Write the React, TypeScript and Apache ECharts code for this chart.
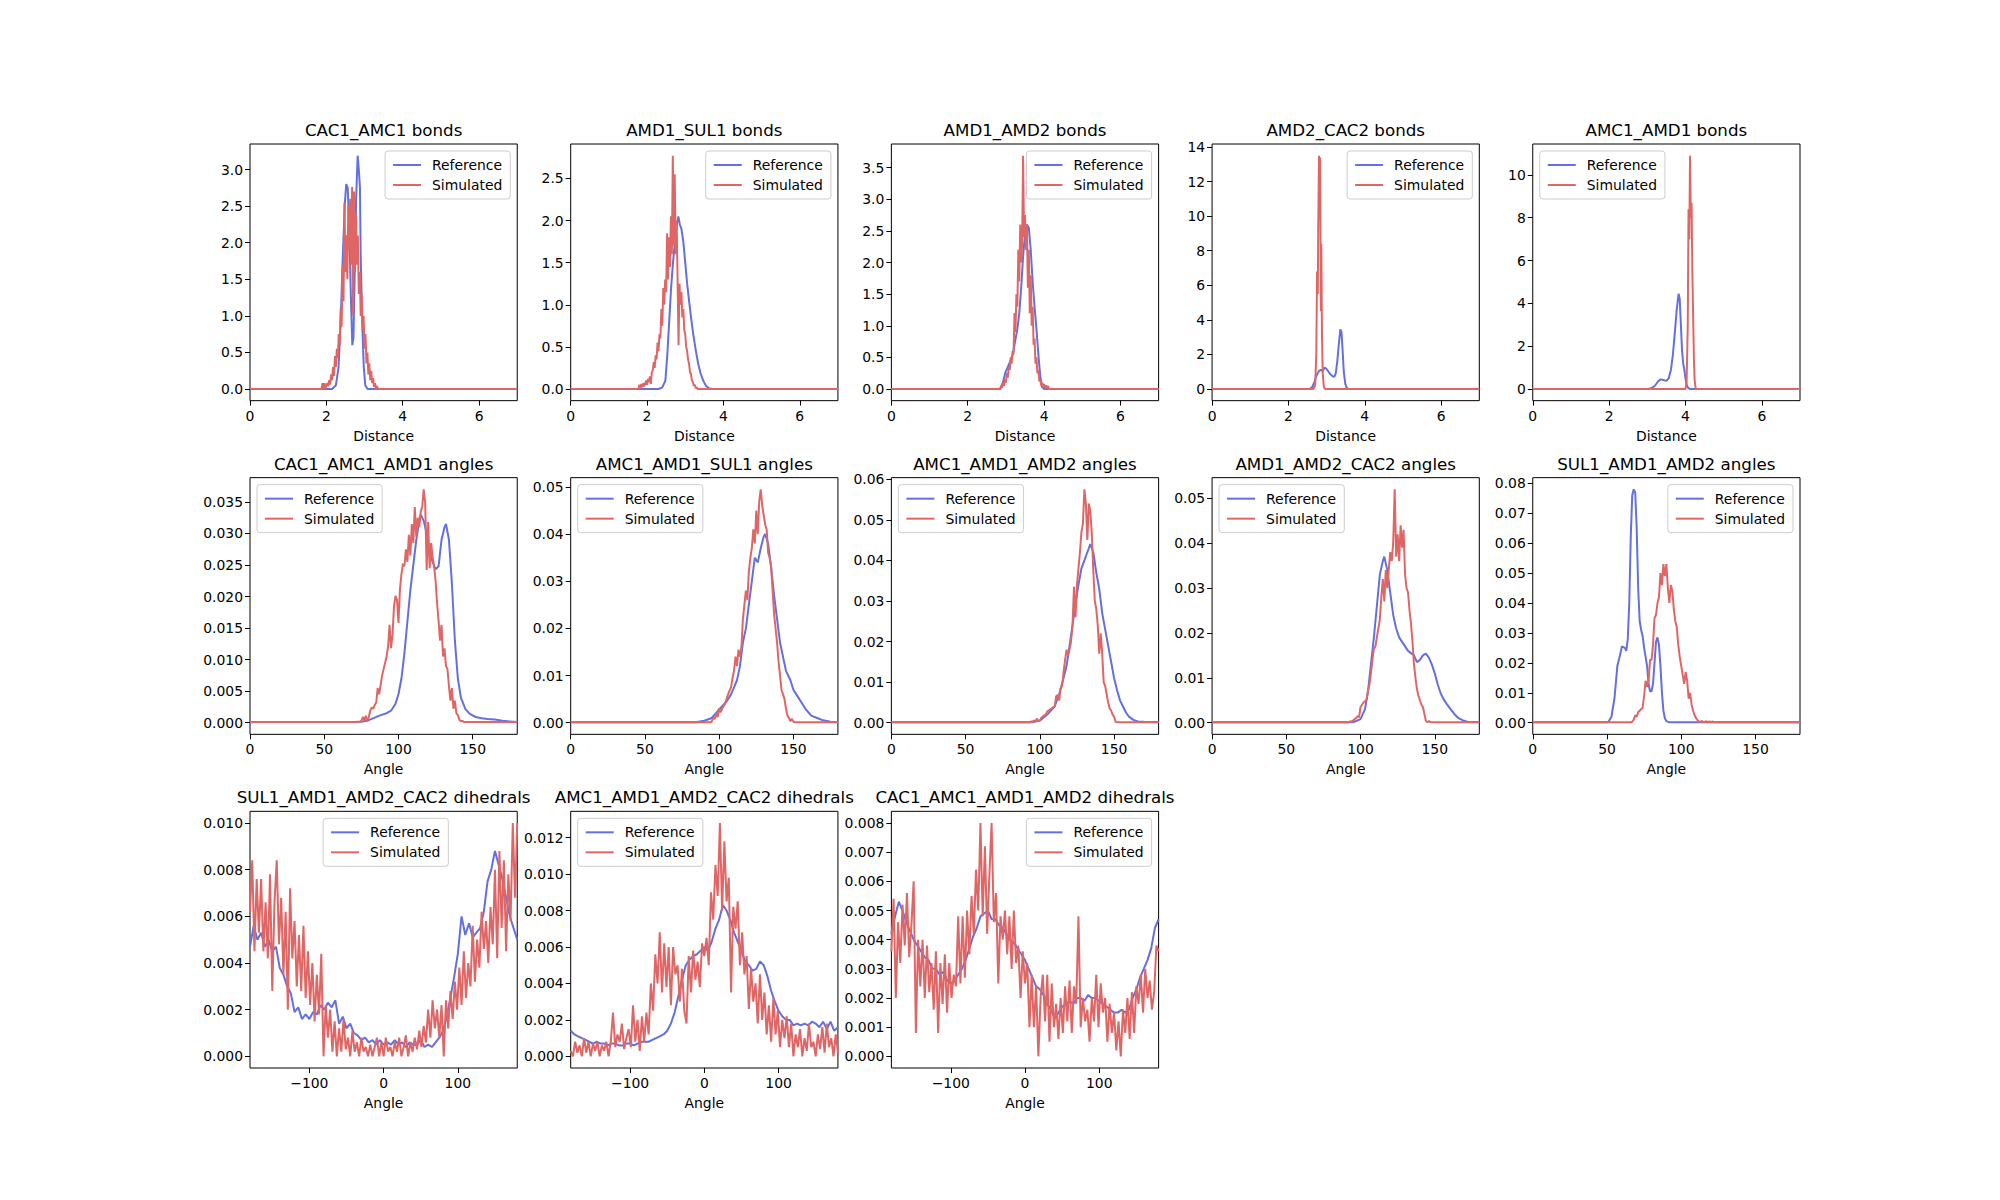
import React, { useEffect, useRef } from "react";
import * as echarts from "echarts";

const REF_COLOR = "#6270e0";
const SIM_COLOR = "#e06666";
const FONT = "DejaVu Sans";

// ---------- tick labels ----------
const BOND_XTICKS = [0, 2, 4, 6];
const ANGLE_XTICKS = [0, 50, 100, 150];
const DIH_XTICKS = [-100, 0, 100];
const B1_YTICKS = [0, 0.5, 1, 1.5, 2, 2.5, 3];
const B2_YTICKS = [0, 0.5, 1, 1.5, 2, 2.5];
const B3_YTICKS = [0, 0.5, 1, 1.5, 2, 2.5, 3, 3.5];
const B4_YTICKS = [0, 2, 4, 6, 8, 10, 12, 14];
const B5_YTICKS = [0, 2, 4, 6, 8, 10];
const A1_YTICKS = [0, 0.005, 0.01, 0.015, 0.02, 0.025, 0.03, 0.035];
const A2_YTICKS = [0, 0.01, 0.02, 0.03, 0.04, 0.05];
const A3_YTICKS = [0, 0.01, 0.02, 0.03, 0.04, 0.05, 0.06];
const A4_YTICKS = [0, 0.01, 0.02, 0.03, 0.04, 0.05];
const A5_YTICKS = [0, 0.01, 0.02, 0.03, 0.04, 0.05, 0.06, 0.07, 0.08];
const D1_YTICKS = [0, 0.002, 0.004, 0.006, 0.008, 0.01];
const D2_YTICKS = [0, 0.002, 0.004, 0.006, 0.008, 0.01, 0.012];
const D3_YTICKS = [0, 0.001, 0.002, 0.003, 0.004, 0.005, 0.006, 0.007, 0.008];

// ---------- bonds ----------
const B1_REF_X = [2.15, 2.25, 2.32, 2.38, 2.43, 2.48, 2.52, 2.56, 2.6, 2.64, 2.68, 2.71, 2.74, 2.78, 2.82, 2.85, 2.88, 2.9, 2.94, 2.98, 3.02, 3.08];
const B1_REF_Y = [0, 0.05, 0.3, 1.0, 1.8, 2.5, 2.8, 2.75, 2.2, 1.3, 0.6, 0.7, 1.5, 2.6, 3.19, 3.0, 2.75, 1.8, 0.9, 0.3, 0.05, 0];
const B1_SIM_X0 = 1.9;
const B1_SIM_DX = 0.025;
const B1_SIM = [0.08, 0, 0.08, 0, 0.04, 0.08, 0.04, 0.12, 0.06, 0.2, 0.12, 0.3, 0.18, 0.45, 0.3, 0.55, 0.42, 0.75, 0.6, 1.1, 0.85, 1.7, 1.2, 2.55, 1.6, 2.1, 1.5, 2.5, 1.9, 2.6, 1.7, 2.76, 1.0, 2.7, 1.6, 2.4, 1.7, 2.1, 1.3, 1.6, 1.0, 1.3, 0.8, 1.0, 0.55, 0.75, 0.35, 0.5, 0.2, 0.35, 0.12, 0.25, 0.08, 0.15, 0.03, 0.08, 0, 0.04, 0];

const B2_REF_X = [2.3, 2.4, 2.48, 2.53, 2.58, 2.63, 2.68, 2.73, 2.78, 2.82, 2.86, 2.9, 2.95, 3.0, 3.05, 3.1, 3.16, 3.22, 3.28, 3.34, 3.4, 3.47, 3.54, 3.62, 3.7];
const B2_REF_Y = [0, 0.02, 0.1, 0.4, 0.8, 1.2, 1.5, 1.75, 1.95, 2.05, 1.95, 1.9, 1.75, 1.5, 1.25, 1.05, 0.82, 0.62, 0.45, 0.3, 0.19, 0.1, 0.04, 0.01, 0];
const B2_SIM_X0 = 1.8;
const B2_SIM_DX = 0.025;
const B2_SIM = [0.05, 0, 0.06, 0.02, 0.07, 0.03, 0.06, 0.1, 0.05, 0.12, 0.08, 0.15, 0.06, 0.2, 0.22, 0.32, 0.25, 0.4, 0.35, 0.55, 0.45, 0.65, 0.6, 0.95, 0.75, 1.2, 1.0, 1.3, 1.15, 1.85, 1.3, 1.8, 1.45, 2.05, 1.6, 2.77, 1.7, 2.55, 1.6, 2.0, 1.3, 0.52, 1.25, 1.0, 1.15, 0.85, 0.95, 0.7, 0.65, 0.5, 0.45, 0.35, 0.3, 0.2, 0.18, 0.1, 0.08, 0.04, 0.05, 0.01, 0.02, 0];

const B3_REF_X = [2.85, 2.92, 2.98, 3.05, 3.12, 3.18, 3.24, 3.3, 3.35, 3.4, 3.45, 3.5, 3.55, 3.6, 3.65, 3.7, 3.75, 3.8, 3.85, 3.9, 3.95, 4.0];
const B3_REF_Y = [0, 0.1, 0.25, 0.35, 0.45, 0.55, 0.75, 0.95, 1.2, 1.6, 2.1, 2.45, 2.6, 2.55, 2.2, 1.7, 1.3, 0.95, 0.55, 0.2, 0.03, 0];
const B3_SIM_X0 = 2.85;
const B3_SIM_DX = 0.025;
const B3_SIM = [0, 0.05, 0.02, 0.1, 0.05, 0.15, 0.1, 0.25, 0.18, 0.35, 0.3, 0.5, 0.4, 0.6, 0.55, 1.2, 0.9, 1.5, 1.3, 2.2, 1.7, 2.6, 2.0, 2.3, 3.69, 2.4, 2.75, 2.2, 2.6, 1.6, 2.2, 1.2, 1.8, 1.0, 1.3, 0.7, 0.8, 0.4, 0.5, 0.25, 0.3, 0.12, 0.15, 0.05, 0.1, 0.03, 0.08, 0.02, 0.06, 0.01, 0.05, 0, 0];

const B4_REF_X = [2.55, 2.62, 2.68, 2.74, 2.8, 2.85, 2.9, 2.95, 3.0, 3.05, 3.1, 3.15, 3.2, 3.24, 3.28, 3.32, 3.36, 3.39, 3.42, 3.45, 3.49, 3.53, 3.58];
const B4_REF_Y = [0, 0.1, 0.4, 0.8, 1.05, 1.1, 1.05, 1.25, 1.15, 1.0, 0.85, 0.75, 0.7, 0.9, 1.6, 2.6, 3.45, 3.3, 2.2, 1.0, 0.3, 0.05, 0];
const B4_SIM_X = [2.65, 2.7, 2.73, 2.75, 2.77, 2.78, 2.8, 2.82, 2.83, 2.85, 2.86, 2.88, 2.9, 2.93, 2.96];
const B4_SIM_Y = [0, 0.2, 2.0, 6.8, 5.5, 9.1, 13.5, 11.0, 13.4, 4.5, 8.4, 3.0, 0.8, 0.1, 0];

const B5_REF_X = [3.0, 3.1, 3.2, 3.28, 3.35, 3.42, 3.5, 3.56, 3.62, 3.67, 3.72, 3.77, 3.82, 3.85, 3.88, 3.91, 3.94, 3.97, 4.0, 4.03, 4.07, 4.12];
const B5_REF_Y = [0, 0.03, 0.15, 0.35, 0.45, 0.42, 0.38, 0.5, 0.9, 1.6, 2.6, 3.7, 4.45, 4.2, 3.0, 1.8, 1.2, 0.9, 0.5, 0.2, 0.05, 0];
const B5_SIM_X = [4.0, 4.03, 4.06, 4.08, 4.1, 4.12, 4.14, 4.16, 4.18, 4.2, 4.22, 4.24, 4.27];
const B5_SIM_Y = [0, 0.3, 3.0, 8.4, 7.0, 10.9, 8.0, 8.7, 5.5, 3.5, 1.5, 0.4, 0];

// ---------- angles ----------
const A1_REF_X = [70, 76, 80, 84, 88, 92, 95, 98, 100, 102, 104, 106, 108, 110, 112, 114, 115, 117, 119, 121, 123, 125, 127, 129, 131, 132, 134, 136, 138, 140, 142, 145, 148, 152, 156, 160, 165, 170, 175];
const A1_REF_Y = [0.0001, 0.0002, 0.0004, 0.0008, 0.0012, 0.0015, 0.0019, 0.003, 0.0045, 0.007, 0.011, 0.016, 0.021, 0.025, 0.029, 0.032, 0.033, 0.032, 0.03, 0.027, 0.0255, 0.0243, 0.0248, 0.029, 0.031, 0.0315, 0.029, 0.022, 0.013, 0.007, 0.004, 0.0022, 0.0014, 0.0009, 0.0007, 0.0006, 0.0005, 0.0003, 0.0002];
const A1_SIM_X0 = 74;
const A1_SIM = [0.0001, 0.0003, 0.0009, 0.0004, 0.0011, 0.0002, 0.0009, 0.0019, 0.0024, 0.0022, 0.0028, 0.0032, 0.0055, 0.0045, 0.006, 0.0075, 0.0085, 0.0095, 0.0105, 0.012, 0.0155, 0.0118, 0.014, 0.0185, 0.0201, 0.0195, 0.0158, 0.0212, 0.0235, 0.0252, 0.0248, 0.0275, 0.0255, 0.0298, 0.0265, 0.0315, 0.0285, 0.0342, 0.0295, 0.0325, 0.031, 0.0335, 0.0342, 0.037, 0.0348, 0.0242, 0.0318, 0.0245, 0.0285, 0.0262, 0.0248, 0.0225, 0.019, 0.0162, 0.013, 0.0155, 0.0105, 0.0118, 0.009, 0.0085, 0.0058, 0.0035, 0.0055, 0.0022, 0.0035, 0.0015, 0.0012, 0.0005, 0.0002, 0.0003, 0.0001];

const A2_REF_X = [84, 90, 95, 100, 105, 108, 110, 112, 114, 116, 118, 120, 122, 124, 126, 128, 130, 131, 133, 135, 137, 139, 141, 143, 145, 148, 150, 152, 155, 158, 162, 166, 170, 175];
const A2_REF_Y = [0.0001, 0.0004, 0.001, 0.0028, 0.0045, 0.006, 0.0075, 0.009, 0.012, 0.017, 0.02, 0.025, 0.03, 0.035, 0.034, 0.037, 0.0395, 0.04, 0.038, 0.033, 0.027, 0.022, 0.017, 0.014, 0.011, 0.009, 0.007, 0.006, 0.0045, 0.003, 0.0015, 0.001, 0.0005, 0.0002];
const A2_SIM_X0 = 95;
const A2_SIM = [0.0002, 0.001, 0.0008, 0.002, 0.0012, 0.003, 0.0022, 0.003, 0.0035, 0.004, 0.005, 0.006, 0.0068, 0.0075, 0.0095, 0.011, 0.014, 0.012, 0.0155, 0.014, 0.016, 0.022, 0.025, 0.028, 0.026, 0.032, 0.035, 0.037, 0.041, 0.038, 0.045, 0.04, 0.047, 0.0495, 0.046, 0.044, 0.042, 0.041, 0.036, 0.035, 0.033, 0.028, 0.023, 0.02, 0.017, 0.013, 0.01, 0.007, 0.006, 0.005, 0.003, 0.0015, 0.001, 0.0003, 0.0008, 0.0002, 0.0001];

const A3_REF_X = [95, 100, 105, 110, 113, 116, 118, 120, 122, 124, 126, 128, 130, 132, 134, 136, 138, 140, 142, 144, 146, 148, 150, 152, 154, 156, 158, 160, 163, 166, 170];
const A3_REF_Y = [0.0001, 0.0005, 0.002, 0.004, 0.007, 0.011, 0.014, 0.019, 0.024, 0.029, 0.034, 0.038, 0.04, 0.042, 0.044, 0.042, 0.037, 0.033, 0.027, 0.023, 0.019, 0.015, 0.011, 0.008, 0.0055, 0.004, 0.0025, 0.0015, 0.0007, 0.0003, 0.0002];
const A3_SIM_X0 = 94;
const A3_SIM = [0.0003, 0.0002, 0.0005, 0.0003, 0.001, 0.0004, 0.0005, 0.0012, 0.0015, 0.0018, 0.002, 0.0028, 0.003, 0.0033, 0.0035, 0.0038, 0.004, 0.0065, 0.0068, 0.0055, 0.0085, 0.009, 0.0125, 0.0155, 0.018, 0.0165, 0.018, 0.02, 0.024, 0.0335, 0.026, 0.034, 0.038, 0.042, 0.047, 0.049, 0.0575, 0.054, 0.045, 0.054, 0.052, 0.0465, 0.0375, 0.03, 0.028, 0.024, 0.017, 0.022, 0.017, 0.01, 0.009, 0.007, 0.005, 0.0035, 0.003, 0.002, 0.0015, 0.0002, 0.0001];

const A4_REF_X = [95, 100, 103, 105, 107, 109, 111, 113, 115, 116, 118, 120, 122, 124, 126, 128, 130, 132, 134, 136, 138, 140, 142, 144, 146, 148, 150, 152, 154, 156, 158, 160, 163, 166, 169, 172];
const A4_REF_Y = [0.0001, 0.0008, 0.003, 0.007, 0.013, 0.019, 0.026, 0.033, 0.036, 0.037, 0.034, 0.029, 0.024, 0.021, 0.019, 0.018, 0.017, 0.016, 0.0155, 0.015, 0.0135, 0.014, 0.015, 0.0154, 0.0145, 0.013, 0.011, 0.0085, 0.0065, 0.0052, 0.0042, 0.0033, 0.002, 0.001, 0.0005, 0.0002];
const A4_SIM_X0 = 93;
const A4_SIM = [0.0003, 0.0002, 0.0005, 0.0008, 0.001, 0.0015, 0.0012, 0.0035, 0.004, 0.0045, 0.0048, 0.005, 0.007, 0.0085, 0.011, 0.014, 0.0165, 0.017, 0.019, 0.021, 0.023, 0.028, 0.032, 0.027, 0.034, 0.03, 0.034, 0.038, 0.036, 0.04, 0.052, 0.037, 0.042, 0.036, 0.044, 0.039, 0.043, 0.033, 0.03, 0.029, 0.025, 0.022, 0.018, 0.013, 0.01, 0.0075, 0.006, 0.005, 0.004, 0.0035, 0.002, 0.0004, 0.0001, 0.0004, 0.0001];

const A5_REF_X = [50, 51, 53, 55, 57, 59, 60, 62, 63, 64, 65, 66, 67, 68, 69, 70, 71, 72, 73, 74, 75, 76, 77, 78, 79, 80, 81, 82, 83, 84, 85, 86, 87, 88, 89, 90, 92];
const A5_REF_Y = [0.0001, 0.0003, 0.002, 0.008, 0.019, 0.023, 0.0255, 0.025, 0.024, 0.028, 0.04, 0.062, 0.076, 0.078, 0.077, 0.065, 0.045, 0.034, 0.031, 0.029, 0.025, 0.022, 0.019, 0.013, 0.0105, 0.0105, 0.013, 0.02, 0.027, 0.0285, 0.026, 0.019, 0.01, 0.004, 0.0015, 0.0005, 0.0001];
const A5_SIM_X0 = 67;
const A5_SIM = [0.0003, 0.001, 0.0025, 0.002, 0.0035, 0.004, 0.0045, 0.005, 0.009, 0.014, 0.012, 0.014, 0.021, 0.021, 0.026, 0.035, 0.036, 0.04, 0.042, 0.05, 0.046, 0.053, 0.049, 0.053, 0.045, 0.04, 0.046, 0.044, 0.038, 0.034, 0.032, 0.026, 0.022, 0.019, 0.016, 0.013, 0.017, 0.014, 0.008, 0.01, 0.006, 0.004, 0.0025, 0.0015, 0.0008, 0.0004, 0.0002, 0.0006, 0.0001, 0.0003, 0.0005, 0.0001, 0.0004, 0.0001, 0.0004, 0.0001];

// ---------- dihedrals (evenly spaced bins from -180 to 180) ----------
const D1_REF = [
  0.0047, 0.0056, 0.005, 0.0053, 0.0047, 0.005, 0.0045, 0.0047, 0.0038, 0.0035,
  0.003, 0.0027, 0.0019, 0.0021, 0.0016, 0.0018, 0.0016, 0.0019, 0.0018, 0.0022,
  0.002, 0.0023, 0.0021, 0.0024, 0.0014, 0.0017, 0.0012, 0.0014, 0.001, 0.0009,
  0.0007, 0.0008, 0.0006, 0.0007, 0.0005, 0.0007, 0.0005, 0.0006, 0.0005, 0.0007,
  0.0005, 0.0006, 0.0004, 0.0006, 0.0005, 0.0005, 0.0007, 0.0004, 0.0005, 0.0004,
  0.0006, 0.0008, 0.0011, 0.0017, 0.0025, 0.0034, 0.0044, 0.006, 0.0052, 0.0057,
  0.0051, 0.0053, 0.0055, 0.0062, 0.0075, 0.008, 0.0088, 0.0082, 0.0076, 0.0068,
  0.006, 0.0055, 0.005,
];
const D1_SIM = [
  0.0062, 0.0084, 0.0045, 0.0076, 0.0053, 0.0076, 0.0045, 0.0066, 0.0042, 0.0078,
  0.0028, 0.0066, 0.0084, 0.0048, 0.0068, 0.0035, 0.0062, 0.002, 0.0072, 0.0042,
  0.0058, 0.003, 0.0052, 0.0028, 0.0056, 0.0025, 0.0045, 0.0022, 0.004, 0.0015,
  0.0035, 0.0018, 0.0044, 0.0, 0.0022, 0.0008, 0.002, 0.0002, 0.0015, 0.0,
  0.0012, 0.0002, 0.0016, 0.0003, 0.0008, 0.0, 0.0011, 0.0002, 0.0006, 0.0,
  0.0008, 0.0002, 0.0004, 0.0, 0.0005, 0.0, 0.0004, 0.0008, 0.0, 0.0006,
  0.0, 0.0008, 0.0002, 0.0004, 0.0, 0.0006, 0.0002, 0.0008, 0.0, 0.0004,
  0.0009, 0.0, 0.0006, 0.0002, 0.0008, 0.0003, 0.0011, 0.0004, 0.0013, 0.0006,
  0.002, 0.0008, 0.0024, 0.0012, 0.002, 0.0008, 0.0022, 0.0, 0.0024, 0.0012,
  0.0028, 0.0016, 0.0032, 0.002, 0.0038, 0.0022, 0.0045, 0.0025, 0.004, 0.003,
  0.0056, 0.0032, 0.005, 0.0038, 0.0062, 0.0046, 0.0058, 0.004, 0.0064, 0.0048,
  0.008, 0.0042, 0.0088, 0.0055, 0.0084, 0.0045, 0.0078, 0.0058, 0.01, 0.0068,
  0.01,
];
const D2_REF = [
  0.0014, 0.0012, 0.0011, 0.001, 0.0009, 0.0008, 0.0007, 0.0008, 0.0007, 0.0007,
  0.0006, 0.0007, 0.0007, 0.0006, 0.0006, 0.0007, 0.0007, 0.0006, 0.0007, 0.0008,
  0.0008, 0.0008, 0.0009, 0.001, 0.0011, 0.0012, 0.0014, 0.0018, 0.0024, 0.0033,
  0.0042, 0.005, 0.0053, 0.0055, 0.0056, 0.0058, 0.006, 0.0058, 0.0063, 0.007,
  0.0075, 0.0083, 0.008, 0.0075, 0.0068, 0.0063, 0.0058, 0.0052, 0.005, 0.0047,
  0.0048, 0.0052, 0.005, 0.0044, 0.0036, 0.003, 0.0025, 0.0022, 0.002, 0.002,
  0.0017, 0.0018, 0.0017, 0.0018, 0.0017, 0.0019, 0.0018, 0.0016, 0.0019, 0.0015,
  0.0019, 0.0014, 0.0016,
];
const D2_SIM = [
  0.0003, 0.0, 0.0008, 0.0002, 0.0006, 0.0, 0.001, 0.0002, 0.0008, 0.0,
  0.0007, 0.0003, 0.0008, 0.0, 0.0006, 0.0003, 0.0008, 0.0, 0.0008, 0.0024,
  0.0005, 0.0012, 0.0008, 0.0018, 0.0004, 0.001, 0.0015, 0.0005, 0.0028, 0.0008,
  0.002, 0.0003, 0.0022, 0.0008, 0.0024, 0.0012, 0.004, 0.0025, 0.0056, 0.004,
  0.0068, 0.0035, 0.0062, 0.0038, 0.006, 0.0028, 0.006, 0.0045, 0.005, 0.003,
  0.0048, 0.0025, 0.0018, 0.0055, 0.0035, 0.0058, 0.0042, 0.0052, 0.0038, 0.0062,
  0.0055, 0.0065, 0.005, 0.009, 0.0075, 0.0105, 0.0088, 0.0128, 0.008, 0.0118,
  0.0085, 0.0098, 0.0035, 0.0082, 0.007, 0.0085, 0.005, 0.0068, 0.0045, 0.0055,
  0.0026, 0.0048, 0.003, 0.004, 0.0018, 0.0045, 0.002, 0.0035, 0.0012, 0.0028,
  0.0008, 0.0032, 0.0012, 0.0025, 0.0005, 0.002, 0.001, 0.0022, 0.0005, 0.0018,
  0.0, 0.0012, 0.0005, 0.0015, 0.0, 0.001, 0.0003, 0.0018, 0.0005, 0.0008,
  0.0, 0.0012, 0.0004, 0.0016, 0.0002, 0.0018, 0.0005, 0.001, 0.0, 0.0012,
  0.0002,
];
const D3_REF = [
  0.0042, 0.0048, 0.0053, 0.005, 0.0046, 0.0043, 0.004, 0.0038, 0.0036, 0.0034,
  0.0033, 0.003, 0.003, 0.0028, 0.0029, 0.0026, 0.0025, 0.0026, 0.0028, 0.003,
  0.0033, 0.0037, 0.0041, 0.0044, 0.0048, 0.0049, 0.005, 0.0047, 0.0047, 0.0045,
  0.0044, 0.0042, 0.004, 0.0039, 0.0037, 0.0035, 0.0033, 0.003, 0.0027, 0.0024,
  0.0023, 0.0021, 0.0018, 0.0016, 0.0013, 0.0015, 0.0017, 0.0018, 0.0019, 0.0018,
  0.002, 0.002, 0.0019, 0.0021, 0.002, 0.002, 0.0019, 0.0018, 0.0017, 0.0016,
  0.0015, 0.0015, 0.0016, 0.0015, 0.0016, 0.002, 0.0023, 0.0027, 0.003, 0.0033,
  0.0037, 0.0044, 0.0047,
];
const D3_SIM = [
  0.0036, 0.0054, 0.002, 0.0046, 0.0032, 0.0052, 0.0038, 0.0056, 0.0034, 0.0045,
  0.006, 0.0008, 0.004, 0.0024, 0.004, 0.002, 0.0038, 0.0022, 0.0032, 0.0016,
  0.0036, 0.0008, 0.0032, 0.0018, 0.0035, 0.0015, 0.0032, 0.002, 0.0028, 0.0024,
  0.0048, 0.0025, 0.0048, 0.0027, 0.005, 0.0035, 0.0055, 0.0042, 0.0064, 0.005,
  0.008, 0.0048, 0.0072, 0.0042, 0.0062, 0.008, 0.0046, 0.0056, 0.0025, 0.0048,
  0.004, 0.005, 0.0035, 0.0048, 0.003, 0.005, 0.0032, 0.0038, 0.002, 0.0036,
  0.0025, 0.0032, 0.001, 0.0028, 0.001, 0.0024, 0.0, 0.002, 0.0028, 0.0012,
  0.0028, 0.0005, 0.0025, 0.001, 0.0018, 0.0006, 0.002, 0.0008, 0.0024, 0.0012,
  0.0026, 0.0008, 0.0024, 0.0018, 0.0048, 0.001, 0.002, 0.0012, 0.0016, 0.0005,
  0.002, 0.0012, 0.0028, 0.001, 0.0025, 0.0015, 0.002, 0.0005, 0.0018, 0.0008,
  0.0015, 0.0002, 0.0012, 0.0, 0.0016, 0.0008, 0.002, 0.0006, 0.0022, 0.0008,
  0.0024, 0.0018, 0.0028, 0.0015, 0.003, 0.002, 0.0026, 0.0016, 0.0022, 0.0038,
  0.0036,
];

// ---------- helpers ----------
type Pt = [number, number];
function zipPad(xs: number[], ys: number[], lo: number, hi: number, base: number): Pt[] {
  const n = Math.min(xs.length, ys.length);
  const out: Pt[] = [[lo, base]];
  for (let i = 0; i < n; i++) out.push([xs[i], ys[i]]);
  out.push([hi, base]);
  return out;
}
function binned(x0: number, dx: number, ys: number[], lo: number, hi: number, base: number): Pt[] {
  const xs = ys.map((_, i) => Math.round((x0 + i * dx) * 10000) / 10000);
  const out = zipPad(xs, ys, lo, hi, base);
  // empty bins just before the first and after the last filled bin
  out.splice(1, 0, [Math.round((x0 - dx) * 10000) / 10000, base]);
  out.splice(out.length - 1, 0, [Math.round((x0 + ys.length * dx) * 10000) / 10000, base]);
  return out;
}
function spanned(ys: number[], lo: number, hi: number): Pt[] {
  const n = ys.length;
  return ys.map((y, i) => [lo + (i * (hi - lo)) / (n - 1), y] as Pt);
}

const BOND_AX = { min: 0, max: 7, ticks: BOND_XTICKS, label: "Distance" };
const ANGLE_AX = { min: 0, max: 180, ticks: ANGLE_XTICKS, label: "Angle" };
const DIH_AX = { min: -180, max: 180, ticks: DIH_XTICKS, label: "Angle" };
const AB = 0.0001;

const PANELS = [
  { title: "CAC1_AMC1 bonds", ax: BOND_AX, yTicks: B1_YTICKS, dec: 1, legend: "ur",
    ref: zipPad(B1_REF_X, B1_REF_Y, 0, 7, 0), sim: binned(B1_SIM_X0, B1_SIM_DX, B1_SIM, 0, 7, 0) },
  { title: "AMD1_SUL1 bonds", ax: BOND_AX, yTicks: B2_YTICKS, dec: 1, legend: "ur",
    ref: zipPad(B2_REF_X, B2_REF_Y, 0, 7, 0), sim: binned(B2_SIM_X0, B2_SIM_DX, B2_SIM, 0, 7, 0) },
  { title: "AMD1_AMD2 bonds", ax: BOND_AX, yTicks: B3_YTICKS, dec: 1, legend: "ur",
    ref: zipPad(B3_REF_X, B3_REF_Y, 0, 7, 0), sim: binned(B3_SIM_X0, B3_SIM_DX, B3_SIM, 0, 7, 0) },
  { title: "AMD2_CAC2 bonds", ax: BOND_AX, yTicks: B4_YTICKS, dec: 0, legend: "ur",
    ref: zipPad(B4_REF_X, B4_REF_Y, 0, 7, 0), sim: zipPad(B4_SIM_X, B4_SIM_Y, 0, 7, 0) },
  { title: "AMC1_AMD1 bonds", ax: BOND_AX, yTicks: B5_YTICKS, dec: 0, legend: "ul",
    ref: zipPad(B5_REF_X, B5_REF_Y, 0, 7, 0), sim: zipPad(B5_SIM_X, B5_SIM_Y, 0, 7, 0) },
  { title: "CAC1_AMC1_AMD1 angles", ax: ANGLE_AX, yTicks: A1_YTICKS, dec: 3, legend: "ul",
    ref: zipPad(A1_REF_X, A1_REF_Y, 0, 180, AB), sim: binned(A1_SIM_X0, 1, A1_SIM, 0, 180, AB) },
  { title: "AMC1_AMD1_SUL1 angles", ax: ANGLE_AX, yTicks: A2_YTICKS, dec: 2, legend: "ul",
    ref: zipPad(A2_REF_X, A2_REF_Y, 0, 180, AB), sim: binned(A2_SIM_X0, 1, A2_SIM, 0, 180, AB) },
  { title: "AMC1_AMD1_AMD2 angles", ax: ANGLE_AX, yTicks: A3_YTICKS, dec: 2, legend: "ul",
    ref: zipPad(A3_REF_X, A3_REF_Y, 0, 180, AB), sim: binned(A3_SIM_X0, 1, A3_SIM, 0, 180, AB) },
  { title: "AMD1_AMD2_CAC2 angles", ax: ANGLE_AX, yTicks: A4_YTICKS, dec: 2, legend: "ul",
    ref: zipPad(A4_REF_X, A4_REF_Y, 0, 180, AB), sim: binned(A4_SIM_X0, 1, A4_SIM, 0, 180, AB) },
  { title: "SUL1_AMD1_AMD2 angles", ax: ANGLE_AX, yTicks: A5_YTICKS, dec: 2, legend: "ur",
    ref: zipPad(A5_REF_X, A5_REF_Y, 0, 180, AB), sim: binned(A5_SIM_X0, 1, A5_SIM, 0, 180, AB) },
  { title: "SUL1_AMD1_AMD2_CAC2 dihedrals", ax: DIH_AX, yTicks: D1_YTICKS, dec: 3, legend: "uc",
    ref: spanned(D1_REF, -180, 180), sim: spanned(D1_SIM, -180, 180) },
  { title: "AMC1_AMD1_AMD2_CAC2 dihedrals", ax: DIH_AX, yTicks: D2_YTICKS, dec: 3, legend: "ul",
    ref: spanned(D2_REF, -180, 180), sim: spanned(D2_SIM, -180, 180) },
  { title: "CAC1_AMC1_AMD1_AMD2 dihedrals", ax: DIH_AX, yTicks: D3_YTICKS, dec: 3, legend: "ur",
    ref: spanned(D3_REF, -180, 180), sim: spanned(D3_SIM, -180, 180) },
];

// layout (matplotlib 5x3 subplot grid on 2000x1200)
const AX_L0 = 250, AX_W = 267.24, COL_STEP = 320.69;
const AX_T0 = 144, AX_H = 256.67, ROW_STEP = 333.67;
const LEG_W = 121;

function fmt(v: number, dec: number) {
  const s = Math.abs(v).toFixed(dec);
  return (v < -1e-12 ? "\u2212" : "") + s;
}

function buildOption() {
  const grid: any[] = [], xAxis: any[] = [], yAxis: any[] = [], series: any[] = [], legend: any[] = [], texts: any[] = [];
  PANELS.forEach((p, i) => {
    const col = i % 5, row = Math.floor(i / 5);
    const L = AX_L0 + col * COL_STEP, T = AX_T0 + row * ROW_STEP;
    let ymax = 0;
    for (const pt of p.ref) ymax = Math.max(ymax, pt[1]);
    for (const pt of p.sim) ymax = Math.max(ymax, pt[1]);
    grid.push({ left: L, top: T, width: AX_W, height: AX_H, show: true, borderColor: "#000", borderWidth: 1, backgroundColor: "transparent" });
    const tickStyle = { show: true, length: 5, lineStyle: { color: "#000", width: 1 } };
    const labelStyle = { color: "#000", fontSize: 13.9, fontFamily: FONT, margin: 8 };
    xAxis.push({
      type: "value", gridIndex: i, min: p.ax.min, max: p.ax.max,
      axisLine: { show: false, onZero: false },
      axisTick: { ...tickStyle, customValues: p.ax.ticks },
      axisLabel: { ...labelStyle, customValues: p.ax.ticks, formatter: (v: number) => fmt(v, 0) },
      splitLine: { show: false },
    });
    yAxis.push({
      type: "value", gridIndex: i, min: -0.05 * ymax, max: 1.05 * ymax,
      axisLine: { show: false, onZero: false },
      axisTick: { ...tickStyle, customValues: p.yTicks },
      axisLabel: { ...labelStyle, margin: 7, customValues: p.yTicks, formatter: (v: number) => fmt(v, p.dec) },
      splitLine: { show: false },
    });
    series.push({
      type: "line", name: "Reference", xAxisIndex: i, yAxisIndex: i, data: p.ref,
      showSymbol: false, symbol: "none", silent: true, z: 2,
      lineStyle: { color: REF_COLOR, width: 2 }, itemStyle: { color: REF_COLOR },
    });
    series.push({
      type: "line", name: "Simulated", xAxisIndex: i, yAxisIndex: i, data: p.sim,
      showSymbol: false, symbol: "none", silent: true, z: 3,
      lineStyle: { color: SIM_COLOR, width: 2 }, itemStyle: { color: SIM_COLOR },
    });
    const leg: any = {
      orient: "vertical", top: T + 7, data: ["Reference", "Simulated"], icon: "rect",
      itemWidth: 28, itemHeight: 2, itemGap: 6, padding: [7, 8, 7, 8],
      backgroundColor: "rgba(255,255,255,0.8)", borderColor: "#cccccc", borderWidth: 1, borderRadius: 3,
      selectedMode: false,
      textStyle: { fontSize: 13.9, fontFamily: FONT, color: "#000", padding: [0, 0, 0, 6] },
    };
    if (p.legend === "ur") leg.right = 2000 - (L + AX_W) + 7;
    else if (p.legend === "ul") leg.left = L + 7;
    else leg.left = L + AX_W / 2 - LEG_W / 2;
    legend.push(leg);
    texts.push({
      type: "text", x: L + AX_W / 2, y: T - 14, silent: true,
      style: { text: p.title, fontSize: 16.7, fontFamily: FONT, fill: "#000", textAlign: "center", textVerticalAlign: "middle" },
    });
    texts.push({
      type: "text", x: L + AX_W / 2, y: T + AX_H + 35, silent: true,
      style: { text: p.ax.label, fontSize: 13.9, fontFamily: FONT, fill: "#000", textAlign: "center", textVerticalAlign: "middle" },
    });
  });
  return {
    animation: false,
    backgroundColor: "#ffffff",
    grid, xAxis, yAxis, series, legend,
    graphic: { elements: texts },
  };
}

export default function App() {
  const ref = useRef<HTMLDivElement>(null);
  useEffect(() => {
    if (!ref.current) return;
    const chart = echarts.init(ref.current, null, { renderer: "svg" });
    chart.setOption(buildOption() as any);
    return () => chart.dispose();
  }, []);
  return (
    <div
      ref={ref}
      style={{ position: "absolute", left: 0, top: 0, width: 2000, height: 1200, background: "#ffffff" }}
    />
  );
}
